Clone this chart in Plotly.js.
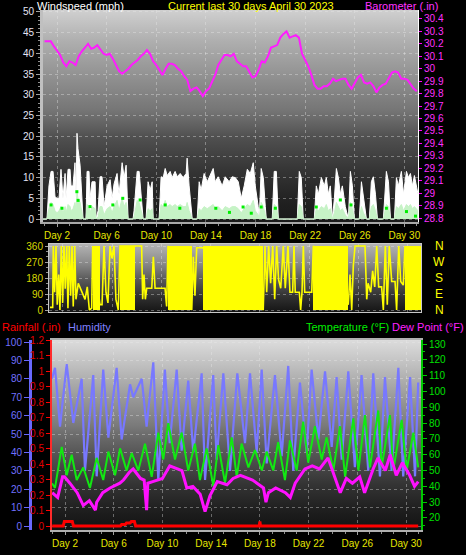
<!DOCTYPE html>
<html><head><meta charset="utf-8">
<script src="https://cdn.plot.ly/plotly-3.0.1.min.js"></script>
<style>html,body{margin:0;padding:0;background:#000;}#chart{width:466px;height:555px;}</style>
</head><body><div id="chart"></div>
<script>
// ---------- DATA ----------
const dayTicks = [2,6,10,14,18,22,26,30];
const dayLabels = ['Day 2','Day 6','Day 10','Day 14','Day 18','Day 22','Day 26','Day 30'];

// Barometer, every 6 hours from Day 1.0
const baroStart = 1, baroStep = 0.25;
const baroValues = [30.22,30.22,30.22,30.18, 30.14,30.11,30.05,30.02, 30.06,30.05,30.03,30.10, 30.14,30.17,30.20,30.16,
 30.17,30.19,30.15,30.12, 30.11,30.12,30.08,30.03, 29.98,29.96,29.98,30.00, 30.03,30.05,30.07,30.10,
 30.12,30.15,30.12,30.06, 30.03,29.99,29.95,30.00, 30.04,30.04,30.03,30.00, 29.98,29.94,29.91,29.82,
 29.84,29.85,29.82,29.78, 29.82,29.84,29.90,29.95, 30.03,30.07,30.11,30.11, 30.10,30.12,30.06,30.04,
 30.02,30.02,29.97,29.93, 29.94,29.99,30.06,30.05, 30.10,30.17,30.18,30.19, 30.25,30.28,30.30,30.25,
 30.26,30.27,30.25,30.12, 30.07,30.02,29.95,29.87, 29.84,29.84,29.86,29.86, 29.88,29.92,29.90,29.91,
 29.92,29.92,29.87,29.84, 29.89,29.93,29.95,29.89, 29.88,29.89,29.86,29.81, 29.85,29.87,29.88,29.92,
 29.97,29.98,29.97,29.92, 29.92,29.91,29.87,29.84, 29.82];

// Wind speed (mph)
const windDays = [0.87,1.19,1.35,1.52,1.68,1.84,2.00,2.16,2.32,2.48,
 2.65,2.73,2.89,3.05,3.13,3.29,3.45,3.53,3.61,3.69,
 3.86,4.02,4.10,4.34,4.42,4.58,4.66,4.82,5.07,5.15,
 5.31,5.47,5.63,5.79,6.04,6.28,6.44,6.60,6.84,7.00,
 7.25,7.41,7.57,7.73,8.13,8.21,8.46,8.62,8.78,8.94,
 9.18,9.34,9.51,9.67,9.75,10.23,10.39,10.56,10.72,10.88,
 11.12,11.28,11.52,11.69,11.93,12.17,12.41,12.49,12.65,12.90,
 13.30,13.46,13.62,13.86,14.11,14.59,14.75,14.99,15.32,15.56,
 15.88,16.12,16.37,16.61,16.85,17.09,17.34,17.58,17.82,17.98,
 18.22,18.30,18.46,18.63,18.79,18.87,19.35,19.51,19.68,19.84,
 21.37,21.53,21.69,21.85,22.74,22.90,23.07,23.31,23.55,23.71,
 23.87,24.03,24.20,24.36,24.52,24.68,24.84,25.00,25.24,25.49,
 25.65,25.81,25.97,26.37,26.54,26.70,26.94,27.18,27.34,27.50,
 27.67,27.83,28.31,28.55,28.72,28.88,29.20,29.36,29.52,29.76,
 29.93,30.17,30.33,30.49,30.65,30.81,30.97,31.10];
const windGust = [0,0,8,11.5,11.5,5.4,5,5,12,5,
 11,5,12,12,8,8,13.6,5,20.7,17,
 13,3,0,0,11.5,11.5,5,9,9,0,
 2,10.2,10.2,3,8,9.5,5,8.5,11,6,
 13.6,10,13,0,0,2,11.5,11.5,6.6,0,
 0,9,7,9,0,0,10.2,10,12.2,10.5,
 11.5,10,11.5,10.2,11,10,11,14.7,8,0,
 0,9,7,11,9,12.2,9,10.2,8,10.2,
 9,10.2,10,9,5,8,12,11,13.6,8,
 3,0,12.2,10,3,0,0,11.5,11.5,0,
 0,11.5,10,0,0,8,6,10,8,10,
 6,8,0,5,12.2,10,6,8,3,0,
 11.5,8,0,0,9,5,0,0,9,10.2,
 6,0,0,11.5,9,0,0,10,8,11.5,
 6,11.5,10,11,8,10.5,8,6];
const windAvg = [0,0,2.5,4,3.5,2,1.5,2,3,1.5,
 3,1.5,3.5,3,2,2.5,4,2,6.5,5,
 4,1,0,0,3.5,3,1.5,3,2.5,0,
 0.5,3,3,1,2.5,3,1.5,3,4.5,2,
 5,3,4,0,0,0.5,4.5,4,2,0,
 0,2.5,2,2.5,0,0,3.5,3,4.5,3,
 3.5,3,3.5,3,3.5,3,3,4,2,0,
 0,2.5,2,3,2.5,3.5,2.5,3,2,3,
 2.5,3,3,2.5,1.5,2.5,3.5,3,4.5,2,
 1,0,4,3,1,0,0,3.5,3,0,
 0,3.5,3,0,0,2.5,2,3,2.5,3.5,
 2,2.5,0,1.5,4,3,2,2.5,1,0,
 4,2.5,0,0,3,1.5,0,0,3,3.5,
 2,0,0,3.5,3,0,0,3,2.5,3.5,
 2,3.5,3,3.5,2.5,3,2.5,2];
const avgDotDays = [1.52,2.40,3.60,3.70,4.66,6.50,7.30,8.70,10.72,11.90,14.80,15.90,17.00,17.66,18.46,19.60,22.90,24.84,25.70,28.55,30.17,30.90];
const avgDotVals = [3.4,2.6,6.6,4.5,3.0,3.4,5.0,4.6,3.4,2.6,2.6,1.6,2.9,1.4,2.9,2.6,2.9,4.6,3.4,2.6,1.8,0.7];

// Wind direction (degrees)
const northStart = [4.45,6.64,10.54,13.38,22.32,29.80];
const northEnd   = [5.01,7.86,12.49,18.26,25.17,31.10];
const dirDays = [0.95,1.17,1.22,1.33,1.44,1.54,1.66,1.76,1.87,1.98,2.09,2.19,2.31,2.41,2.52,2.63,2.74,2.84,2.96,3.06,
 3.25,3.53,3.80,3.98,4.15,4.34,4.42,
 5.01,5.18,5.34,5.50,5.66,5.83,5.99,6.15,6.31,6.50,6.64,
 7.86,8.40,8.48,8.59,8.70,8.81,9.22,9.35,9.49,10.30,10.43,10.54,
 12.47,12.60,12.73,12.87,13.36,
 18.28,18.42,18.56,18.72,18.88,19.05,19.21,19.37,19.53,19.70,19.91,20.07,20.29,20.45,20.67,20.78,20.88,21.21,21.32,21.43,21.54,21.65,22.22,22.35,
 25.19,25.33,25.47,25.60,25.74,26.55,26.69,26.80,27.01,27.17,27.34,27.50,27.66,27.90,28.04,28.20,28.36,28.52,28.72,28.99,29.12,29.29,29.45,29.66,29.80];
const dirDeg = [15,15,360,100,360,30,200,0,360,40,360,120,360,10,360,80,360,20,360,60,
 150,100,60,130,0,10,360,
 30,30,360,100,40,360,290,360,60,0,360,
 360,360,60,200,60,122,122,300,122,122,20,360,
 0,300,80,350,350,
 0,360,100,360,150,360,60,360,170,122,360,122,360,100,100,360,100,100,0,100,360,100,100,360,
 30,200,0,250,360,360,60,150,100,220,130,360,130,130,0,360,30,360,160,160,0,360,160,140,360];

// Rainfall (in)
const rainDays = [0.95,1.85,1.95,2.60,2.70,6.55,6.65,6.95,7.05,7.35,7.45,7.70,7.80,17.95,18.00,18.05,31.00];
const rainVals = [0,0,0.03,0.03,0,0,0.01,0.01,0.02,0.02,0.03,0.03,0,0,0.03,0,0];

// Humidity (%)
const humDays = [0.93,1.18,1.59,2.14,2.68,3.37,3.64,4.32,4.60,5.14,5.56,6.24,6.65,7.34,7.60,8.30,8.70,9.25,9.66,10.20,
 10.60,11.17,11.58,12.12,12.53,13.22,13.50,14.17,14.45,15.00,15.55,16.15,16.78,17.19,17.74,18.15,18.56,19.24,19.79,20.33,
 20.74,21.29,21.84,22.25,22.80,23.35,23.90,24.30,24.72,25.26,25.80,26.35,26.90,27.31,27.86,28.27,28.82,29.37,29.77,30.33,30.74,31.00];
const humVals = [80,86,54,88,56,80,30,82,27,85,48,86,47,77,70,80,54,89,25,85,
 45,85,41,79,40,83,25,82,36,83,30,83,45,83,40,85,34,82,38,87,
 30,78,40,85,47,84,43,81,36,84,32,82,30,83,27,81,30,86,27,81,27,78];

// Temperature (F)
const tempDays = [0.93,1.18,1.73,2.14,2.55,2.96,3.50,4.05,4.60,5.14,5.56,6.11,6.52,7.06,7.48,8.02,8.57,9.12,9.66,10.07,
 10.48,11.03,11.58,12.12,12.67,13.08,13.63,14.18,14.59,15.14,15.69,16.10,16.50,17.06,17.60,18.16,18.56,19.10,19.50,20.06,
 20.47,21.02,21.56,21.97,22.52,23.08,23.48,24.03,24.58,25.00,25.67,26.09,26.63,27.04,27.72,28.00,28.68,28.95,29.64,30.05,30.60,31.00];
const tempVals = [42,39,65,47,60,44,52,39,58,44,62,47,64,50,61,50,67,46,74,57,
 80,57,74,50,67,44,64,40,66,42,71,46,67,52,63,50,62,50,68,44,
 69,50,81,55,78,57,71,50,78,46,83,50,85,52,88,52,85,50,82,50,74,52];

// Dew point (F)
const dewDays = [0.95,1.4,1.8,1.96,2.4,3.0,3.5,4.0,4.5,4.6,5.1,5.7,6.5,6.8,7.3,7.6,8.2,8.5,8.7,8.8,
 9.2,10.0,10.6,11.4,11.6,12.0,12.5,13.1,13.5,13.9,14.5,15.3,15.8,16.4,17.4,18.3,18.5,18.7,19.3,20.1,
 20.5,20.9,21.7,22.3,22.9,23.6,24.0,24.6,25.1,25.6,26.2,26.6,27.3,27.7,28.3,28.7,29.2,29.7,30.3,30.7,31.0];
const dewVals = [36,33,46,46,42,36,28,31,25,30,36,39,42,44,49,51,45,44,25,42,
 43,45,53,51,50,39,40,35,24,34,43,41,45,47,44,39,30,36,39,36,
 33,42,51,53,51,58,49,36,45,42,46,36,51,58,50,60,47,55,47,40,43];

// ---------- HELPERS ----------
const W = 466, H = 555;
const fx = p => p / W;
const fy = p => 1 - p / H;
function grad(stops){
  const s = stops.map(a => '<stop offset="' + a[0] + '" stop-color="' + a[1] + '"/>').join('');
  const svg = '<svg xmlns="http://www.w3.org/2000/svg" width="10" height="100" viewBox="0 0 10 100" preserveAspectRatio="none">' +
    '<defs><linearGradient id="g" x1="0" y1="0" x2="0" y2="1">' + s + '</linearGradient></defs>' +
    '<rect x="0" y="0" width="10" height="100" fill="url(#g)"/></svg>';
  return 'data:image/svg+xml;charset=utf-8,' + encodeURIComponent(svg);
}
function bgImage(l, t, r, b, stops){
  return {source: grad(stops), xref:'paper', yref:'paper', x: fx(l), y: fy(t),
    sizex: fx(r) - fx(l), sizey: fy(t) - fy(b), xanchor:'left', yanchor:'top', sizing:'stretch', layer:'below'};
}
const baroDays = baroValues.map((v, i) => baroStart + i * baroStep);
const blockMid = northStart.map((s, i) => (s + northEnd[i]) / 2);
const blockWid = northStart.map((s, i) => northEnd[i] - s);
const blockHeight = northStart.map(() => 360);

const FONT = 'Liberation Sans, Arial, sans-serif';
const grid = 'rgba(235,235,235,0.38)';

// ---------- TRACES ----------
const traces = [
  {x: windDays, y: windGust, type:'scatter', mode:'lines', fill:'tozeroy', fillcolor:'#ffffff',
   line:{color:'#ffffff', width:1}, xaxis:'x', yaxis:'y'},
  {x: windDays, y: windAvg, type:'scatter', mode:'lines', fill:'tozeroy', fillcolor:'#c6f3c6',
   line:{color:'#c6f3c6', width:1}, xaxis:'x', yaxis:'y'},
  {x: avgDotDays, y: avgDotVals, type:'scatter', mode:'markers',
   marker:{color:'#00ee00', size:3, symbol:'square'}, xaxis:'x', yaxis:'y'},
  {x: baroDays, y: baroValues, type:'scatter', mode:'lines',
   line:{color:'#ff1cff', width:2}, xaxis:'x', yaxis:'y2'},
  {x: blockMid, y: blockHeight, width: blockWid, type:'bar', marker:{color:'#ffff00', line:{width:0}},
   xaxis:'x2', yaxis:'y3'},
  {x: dirDays, y: dirDeg, type:'scatter', mode:'lines', line:{color:'#ffff00', width:1.6},
   xaxis:'x2', yaxis:'y3'},
  {x: rainDays, y: rainVals, type:'scatter', mode:'lines', line:{color:'#ff0000', width:3},
   xaxis:'x3', yaxis:'y4'},
  {x: humDays, y: humVals, type:'scatter', mode:'lines', line:{color:'#7878ff', width:2.2},
   xaxis:'x3', yaxis:'y5'},
  {x: tempDays, y: tempVals, type:'scatter', mode:'lines', line:{color:'#12e812', width:2},
   xaxis:'x3', yaxis:'y6'},
  {x: dewDays, y: dewVals, type:'scatter', mode:'lines', line:{color:'#ff10ff', width:3},
   xaxis:'x3', yaxis:'y6'}
];

// ---------- LAYOUT ----------
const tickFont = c => ({family: FONT, size: 10, color: c});
const layout = {
  width: W, height: H, margin:{l:0, r:0, t:0, b:0},
  paper_bgcolor:'#000000', plot_bgcolor:'rgba(0,0,0,0)',
  showlegend:false, bargap:0, font:{family: FONT, size:10, color:'#ffffff'},
  xaxis:{domain:[fx(43), fx(418)], range:[0.87, 31.1], anchor:'y',
    tickvals: dayTicks, ticktext: dayLabels, tickfont: tickFont('#e6e600'),
    ticks:'outside', ticklen:3, tickcolor:'#a0a0a0',
    minor:{ticks:'outside', ticklen:2, dtick:1, tick0:0, tickcolor:'#909090', showgrid:false},
    showgrid:true, gridcolor:grid, griddash:'dot', gridwidth:1,
    showline:true, linecolor:'#a8a8a8', linewidth:2, zeroline:false},
  yaxis:{domain:[fy(222), fy(10)], range:[-0.72, 50.48], anchor:'x',
    tick0:0, dtick:5, tickfont: tickFont('#e4e4f4'),
    ticks:'outside', ticklen:4, tickcolor:'#a0a0a0',
    minor:{ticks:'outside', ticklen:2, dtick:1, tickcolor:'#909090', showgrid:false},
    showgrid:true, gridcolor:grid, griddash:'dot',
    showline:true, linecolor:'#c0c0c0', linewidth:3, zeroline:false},
  yaxis2:{overlaying:'y', side:'right', anchor:'x', range:[28.768, 30.472],
    tick0:28.8, dtick:0.1, tickfont: tickFont('#ff30ff'),
    ticks:'outside', ticklen:3, tickcolor:'#ff00ff',
    showgrid:false, showline:true, linecolor:'#ffffff', linewidth:1, zeroline:false},
  xaxis2:{domain:[fx(49), fx(421)], range:[0.87, 31.1], anchor:'y3',
    tickvals: dayTicks, showticklabels:false, ticks:'',
    showgrid:true, gridcolor:grid, griddash:'dot',
    showline:true, mirror:true, linecolor:'#c8c8c8', linewidth:1, zeroline:false},
  yaxis3:{domain:[fy(312), fy(244)], range:[-11.25, 371.25], anchor:'x2',
    tickvals:[0,90,180,270,360], tickfont: tickFont('#d8d800'),
    ticks:'outside', ticklen:3, tickcolor:'#a0a0a0',
    minor:{ticks:'outside', ticklen:2, dtick:30, tick0:0, tickcolor:'#909090', showgrid:false},
    showgrid:true, gridcolor:grid, griddash:'dot',
    showline:true, mirror:true, linecolor:'#c8c8c8', linewidth:1, zeroline:false},
  xaxis3:{domain:[fx(52), fx(421)], range:[0.933, 31.23], anchor:'y4',
    tickvals: dayTicks, ticktext: dayLabels, tickfont: tickFont('#e6e600'),
    ticks:'outside', ticklen:3, tickcolor:'#a0a0a0',
    minor:{ticks:'outside', ticklen:2, dtick:1, tick0:0, tickcolor:'#909090', showgrid:false},
    showgrid:true, gridcolor:grid, griddash:'dot',
    showline:true, mirror:true, linecolor:'#b0b0b0', linewidth:2, zeroline:false},
  yaxis4:{domain:[fy(530), fy(340)], range:[-0.0256, 1.201], anchor:'x3', side:'left',
    tick0:0, dtick:0.1, tickfont: tickFont('#e00000'),
    ticks:'outside', ticklen:4, tickcolor:'#ff0000',
    showgrid:false, showline:true, linecolor:'#ff2a2a', linewidth:2, zeroline:false},
  yaxis5:{overlaying:'y4', anchor:'free', position: fx(30), side:'left', range:[-2.17, 101.09],
    tick0:0, dtick:10, tickfont: tickFont('#7070ff'),
    ticks:'outside', ticklen:5, tickcolor:'#6868ff',
    showgrid:true, gridcolor:grid, griddash:'dot',
    showline:true, linecolor:'#6868ff', linewidth:3, zeroline:false},
  yaxis6:{overlaying:'y4', side:'right', anchor:'x3', range:[12.41, 132.53],
    tick0:0, dtick:10, tickfont: tickFont('#00e000'),
    ticks:'outside', ticklen:4, tickcolor:'#00c800',
    minor:{ticks:'outside', ticklen:2, dtick:5, tickcolor:'#00c800', showgrid:false},
    showgrid:false, showline:true, linecolor:'#00c800', linewidth:2, zeroline:false},
  images:[
    bgImage(43, 10, 418, 222, [[0,'#d0d0d0'],[0.14,'#b0b0b0'],[0.33,'#8e8e8e'],[0.47,'#767676'],[0.52,'#686868'],[0.6,'#505050'],[0.75,'#363636'],[0.91,'#202020'],[1,'#1a1a1a']]),
    bgImage(49, 244, 421, 312, [[0,'#b4b4b4'],[0.28,'#8a8a8a'],[0.53,'#585858'],[0.78,'#303030'],[1,'#151515']]),
    bgImage(52, 340, 421, 530, [[0,'#dcdcdc'],[0.13,'#c0c0c0'],[0.3,'#9a9a9a'],[0.45,'#7a7a7a'],[0.5,'#6c6c6c'],[0.6,'#555555'],[0.76,'#343434'],[0.9,'#1e1e1e'],[1,'#121212']])
  ],
  annotations:[
    {text:'Windspeed (mph)', x:fx(35), y:fy(6), xanchor:'left', yanchor:'middle', font:{family:FONT, size:11, color:'#ffffff'}},
    {text:'Current last 30 days April 30 2023', x:fx(251), y:fy(6), xanchor:'center', yanchor:'middle', font:{family:FONT, size:11, color:'#ffff00'}},
    {text:'Barometer (.in)', x:fx(440), y:fy(6), xanchor:'right', yanchor:'middle', font:{family:FONT, size:11, color:'#ff33ff'}},
    {text:'Rainfall (.in)', x:fx(0), y:fy(327), xanchor:'left', yanchor:'middle', font:{family:FONT, size:11, color:'#ff0000'}},
    {text:'Humidity', x:fx(66), y:fy(327), xanchor:'left', yanchor:'middle', font:{family:FONT, size:11, color:'#8080ff'}},
    {text:'Temperature (°F)', x:fx(391), y:fy(327), xanchor:'right', yanchor:'middle', font:{family:FONT, size:11, color:'#00ee00'}},
    {text:'Dew Point (°F)', x:fx(466), y:fy(327), xanchor:'right', yanchor:'middle', font:{family:FONT, size:11, color:'#ff22ff'}},
    {text:'N', x:fx(439), y:360, yref:'y3', xanchor:'center', yanchor:'middle', font:{family:FONT, size:12, color:'#ffff00'}},
    {text:'W', x:fx(439), y:270, yref:'y3', xanchor:'center', yanchor:'middle', font:{family:FONT, size:12, color:'#ffff00'}},
    {text:'S', x:fx(439), y:180, yref:'y3', xanchor:'center', yanchor:'middle', font:{family:FONT, size:12, color:'#ffff00'}},
    {text:'E', x:fx(439), y:90, yref:'y3', xanchor:'center', yanchor:'middle', font:{family:FONT, size:12, color:'#ffff00'}},
    {text:'N', x:fx(439), y:0, yref:'y3', xanchor:'center', yanchor:'middle', font:{family:FONT, size:12, color:'#ffff00'}}
  ].map(a => Object.assign({xref:'paper', yref:'paper', showarrow:false}, a))
};

Plotly.newPlot('chart', traces, layout, {staticPlot:true, displayModeBar:false});
</script>
</body></html>
